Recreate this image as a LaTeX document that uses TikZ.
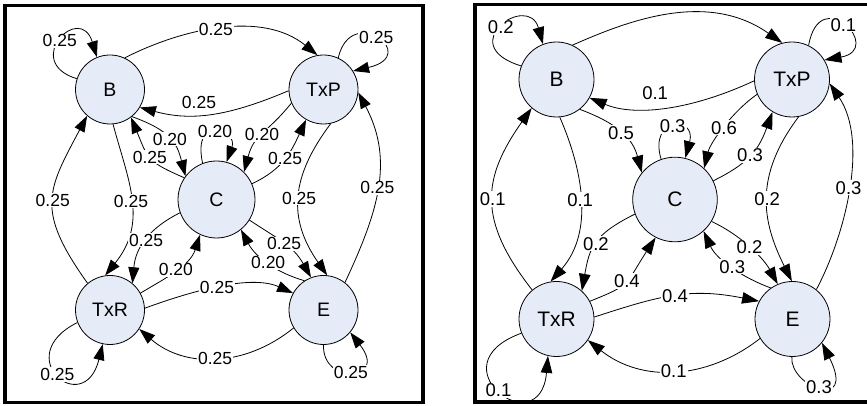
\documentclass[tikz,border=0pt]{standalone}
\usepackage{fontspec}
\setmainfont{Liberation Sans}
\usetikzlibrary{arrows.meta}
\definecolor{nodefill}{RGB}{230,236,247}
\begin{document}
\begin{tikzpicture}[x=1pt,y=1pt,
  st/.style={circle,draw=black,line width=0.8pt,fill=nodefill,inner sep=0pt},
  stl/.style={st,minimum size=69pt,font=\fontsize{19.5}{21}\selectfont},
  stlc/.style={st,minimum size=77pt,font=\fontsize{19.5}{21}\selectfont},
  str/.style={st,minimum size=75pt,font=\fontsize{21}{23}\selectfont},
  strc/.style={st,minimum size=84.6pt,font=\fontsize{21}{23}\selectfont},
  conn/.style={draw=black,line width=0.8pt,-{Triangle[length=16pt,width=11pt]}},
  connr/.style={draw=black,line width=0.8pt,-{Triangle[length=17pt,width=11.5pt]}},
  labl/.style={fill=white,inner sep=1pt,font=\fontsize{17.5}{18}\selectfont},
  lablA/.style={inner sep=1pt,font=\fontsize{17.5}{18}\selectfont},
  labr/.style={fill=white,inner sep=1pt,font=\fontsize{18.5}{19}\selectfont},
  labrA/.style={inner sep=1pt,font=\fontsize{18.5}{19}\selectfont},
  frame/.style={draw=black,line width=3.5pt}
]
\useasboundingbox (0,0) rectangle (867,406);
\fill[white] (0,0) rectangle (867,406);
% frames
\draw[frame] (5,400.5) rectangle (423,3.5);
\draw[frame] (475,401.5) rectangle (870,4);

% ---------- left panel ----------
\node[stl]  (lB)   at (110,316.5)  {B};
\node[stl]  (lTxP) at (323.5,316.5){TxP};
\node[stlc] (lC)   at (216.5,206.5){C};
\node[stl]  (lTxR) at (110,96)     {TxR};
\node[stl]  (lE)   at (323.5,96)   {E};

\draw[conn] (lB.162) .. controls +(163:58) and +(107:58) .. (lB.112) node[labl,pos=.5]{0.25};
\draw[conn] (lB.65) .. controls +(27:64.9) and +(141:71.2) .. (lTxP.100) node[labl,pos=.47]{0.25};
\draw[conn] (lTxP.182) .. controls +(203:67.5) and +(-15:52.5) .. (lB.-31) node[lablA,pos=.58,above=5pt]{0.25};
\draw[conn] (lB.-51) .. controls +(-20:41.1) and +(104.5:34.6) .. (lC.143) node[labl,pos=.5]{0.20};
\draw[conn] (lC.146) .. controls +(156.5:41.1) and +(-67.6:45) .. (lB.-53) node[labl,pos=.5]{0.25};
\draw[conn] (lTxP.203) .. controls +(231:40.7) and +(75:40) .. (lC.45) node[labl,pos=.5]{0.20};
\draw[conn] (lC.24.4) .. controls +(25:34.2) and +(245:35.1) .. (lTxP.240) node[labl,pos=.5]{0.25};
\draw[conn] (lC.111) .. controls +(102:51.4) and +(70:34.4) .. (lC.75) node[labl,pos=.5]{0.20};
\draw[conn] (lB.-85) .. controls +(-75:58.5) and +(51:68.8) .. (lTxR.98) node[labl,pos=.5]{0.25};
\draw[conn] (lTxR.130) .. controls +(125.5:90.4) and +(242:84.7) .. (lB.229) node[labl,pos=.5]{0.25};
\draw[conn] (lTxR.29) .. controls +(31:29.2) and +(252:32.8) .. (lC.245.6) node[labl,pos=.5]{0.20};
\draw[conn] (lC.200) .. controls +(206.6:33.7) and +(85:36.6) .. (lTxR.50.6) node[labl,pos=.5]{0.25};
\draw[conn] (lTxR.3) .. controls +(20:41.7) and +(156:48.5) .. (lE.151) node[labl,pos=.5]{0.25};
\draw[conn] (lE.211) .. controls +(219:62.8) and +(-41:60) .. (lTxR.-33.7) node[labl,pos=.5]{0.25};
\draw[conn] (lC.-32) .. controls +(-33.7:34.2) and +(119.5:36.7) .. (lE.111) node[labl,pos=.5]{0.25};
\draw[conn] (lE.123.7) .. controls +(164:28.2) and +(-62:31.9) .. (lC.-51) node[labl,pos=.5]{0.20};
\draw[conn] (lTxP.-78) .. controls +(233:66.3) and +(125:69.4) .. (lE.84) node[labl,pos=.5]{0.25};
\draw[conn] (lE.52) .. controls +(65:75.3) and +(-62:78.3) .. (lTxP.-5) node[labl,pos=.5]{0.25};
\draw[conn] (lTxP.65) .. controls +(77:56.8) and +(13:70.5) .. (lTxP.32) node[labl,pos=.5]{0.25};
\draw[conn] (lTxR.201.5) .. controls +(206.6:76.4) and +(256:77.7) .. (lTxR.258) node[labl,pos=.5]{0.25};
\draw[conn] (lE.270) .. controls +(268:41.2) and +(308:62.9) .. (lE.320) node[labl,pos=.5]{0.25};

% ---------- right panel ----------
\node[str]  (rB)   at (556.5,326.5){B};
\node[str]  (rTxP) at (792,326.5)  {TxP};
\node[strc] (rC)   at (675,206.5)  {C};
\node[str]  (rTxR) at (556.5,87)   {TxR};
\node[str]  (rE)   at (792.5,87)   {E};

\draw[connr] (rB.159.7) .. controls +(163:71.8) and +(105.5:54.3) .. (rB.111) node[labr,pos=.5]{0.2};
\draw[connr] (rB.65.7) .. controls +(24:65.5) and +(145:89.7) .. (rTxP.105);
\draw[connr] (rTxP.182) .. controls +(205:69.8) and +(-22.8:48.7) .. (rB.-29.3) node[labrA,pos=.56,above=7pt]{0.1};
\draw[connr] (rB.-52.4) .. controls +(-20.6:39.3) and +(105:36.5) .. (rC.141) node[labr,pos=.5]{0.5};
\draw[connr] (rB.-85) .. controls +(-66.5:56.3) and +(48.7:66.8) .. (rTxR.99.5) node[labr,pos=.5]{0.1};
\draw[connr] (rTxR.130) .. controls +(128:89.2) and +(234.8:86) .. (rB.229) node[labr,pos=.5]{0.1};
\draw[connr] (rC.200.4) .. controls +(206.6:45.9) and +(80:44.3) .. (rTxR.48) node[labr,pos=.5]{0.2};
\draw[connr] (rTxR.28.4) .. controls +(21.8:45.4) and +(237:57.2) .. (rC.243.7) node[labr,pos=.5]{0.4};
\draw[connr] (rC.109.9) .. controls +(107:44.4) and +(75:44.4) .. (rC.76.8) node[labr,pos=.5]{0.3};
\draw[connr] (rTxP.203.9) .. controls +(214.7:29.2) and +(76.5:26.8) .. (rC.47.4) node[labr,pos=.5]{0.6};
\draw[connr] (rC.26) .. controls +(26.6:37.6) and +(250:42.6) .. (rTxP.239) node[labr,pos=.5]{0.3};
\draw[connr] (rTxP.-80.4) .. controls +(233:74.5) and +(116.7:66.7) .. (rE.91) node[labr,pos=.5]{0.2};
\draw[connr] (rE.51.8) .. controls +(62:61.7) and +(-56:70.1) .. (rTxP.-6.6) node[labr,pos=.5]{0.3};
\draw[connr] (rTxP.64) .. controls +(80:64.6) and +(10:61.3) .. (rTxP.31.6) node[labr,pos=.5]{0.1};
\draw[connr] (rC.-31.9) .. controls +(-24.8:30.7) and +(118.7:30.8) .. (rE.113.9) node[labr,pos=.5]{0.2};
\draw[connr] (rE.125.4) .. controls +(160:28.4) and +(-65.3:32) .. (rC.-48.2) node[labr,pos=.5]{0.3};
\draw[connr] (rTxR.3) .. controls +(18:69) and +(168.8:71.5) .. (rE.152) node[labr,pos=.5]{0.4};
\draw[connr] (rE.211.6) .. controls +(217.9:68.2) and +(-38.5:68.2) .. (rTxR.-34.1) node[labr,pos=.5]{0.1};
\draw[connr] (rTxR.202.3) .. controls +(200:94.3) and +(265:89.7) .. (rTxR.257.7) node[labr,pos=.5]{0.1};
\draw[connr] (rE.269) .. controls +(265:30) and +(-63.4:78) .. (rE.321) node[labr,pos=.5]{0.3};
\end{tikzpicture}
\end{document}
